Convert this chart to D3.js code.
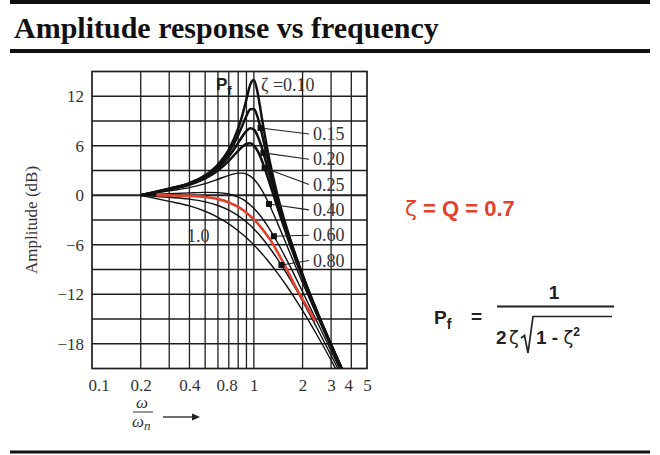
<!DOCTYPE html>
<html>
<head>
<meta charset="utf-8">
<script src="https://cdn.jsdelivr.net/npm/d3@7"></script>
<style>
  body { margin: 0; background: #fff; }
  svg { display: block; }
  .axis text { font-family: "Liberation Serif", serif; font-size: 17px; fill: #333; }
  .axis .domain { display: none; }
  .curve-label { font-family: "Liberation Serif", serif; font-size: 18px; fill: #333; }
  .formula { font-family: "Liberation Sans", Arial, sans-serif; font-weight: bold; fill: #222; }
</style>
</head>
<body>
<svg id="chart" width="660" height="455"></svg>
<script>
// normalised frequency w/wn and the amplitude (dB)
const freq = [0.2, 0.3, 0.4, 0.5, 0.6, 0.7, 0.8, 0.85, 0.9, 0.95, 1.0, 1.05, 1.1, 1.15, 1.2, 1.3, 1.4, 1.6, 1.8, 2.0, 2.5, 3.0, 3.5]

const zeta010 = [0, 0.80, 1.48, 2.42, 3.73, 5.53, 8.09, 9.75, 11.64, 13.41, 13.98, 12.63, 10.34, 8.04, 6.00, 2.65, 0.00, -4.04, -7.12, -9.62, -14.44, -18.09, -21.04]
const zeta015 = [0, 0.78, 1.43, 2.33, 3.55, 5.17, 7.28, 8.48, 9.63, 10.42, 10.46, 9.60, 8.15, 6.52, 4.91, 2.02, -0.41, -4.26, -7.25, -9.71, -14.49, -18.12, -21.06]
const zeta020 = [0, 0.74, 1.36, 2.20, 3.30, 4.70, 6.35, 7.15, 7.81, 8.13, 7.96, 7.28, 6.24, 5.01, 3.73, 1.27, -0.92, -4.54, -7.43, -9.84, -14.56, -18.16, -21.09]
const zeta025 = [0, 0.70, 1.27, 2.04, 3.01, 4.17, 5.38, 5.89, 6.22, 6.29, 6.02, 5.43, 4.60, 3.62, 2.57, 0.46, -1.50, -4.88, -7.66, -10.00, -14.64, -18.21, -21.13]
const zeta040 = [0, 0.53, 0.93, 1.41, 1.94, 2.41, 2.68, 2.68, 2.56, 2.31, 1.94, 1.45, 0.87, 0.22, -0.47, -1.93, -3.38, -6.10, -8.51, -10.63, -14.99, -18.44, -21.28]
const zeta060 = [0, 0.19, 0.29, 0.35, 0.32, 0.15, -0.22, -0.48, -0.80, -1.17, -1.58, -2.04, -2.52, -3.03, -3.55, -4.64, -5.73, -7.87, -9.86, -11.69, -15.63, -18.86, -21.59]
const zeta080 = [0, -0.25, -0.47, -0.80, -1.24, -1.80, -2.47, -2.85, -3.24, -3.65, -4.08, -4.52, -4.97, -5.43, -5.89, -6.82, -7.74, -9.54, -11.24, -12.84, -16.39, -19.40, -21.98]
const zeta100 = [0, -0.75, -1.29, -1.94, -2.67, -3.46, -4.30, -4.72, -5.15, -5.59, -6.02, -6.45, -6.89, -7.32, -7.75, -8.60, -9.43, -11.03, -12.55, -13.98, -17.21, -20.00, -22.44]

// the highlighted (red) zeta = 0.7 curve
const redFreq = [0.25, 0.3, 0.4, 0.5, 0.6, 0.7, 0.8, 0.9, 1.0, 1.1, 1.2, 1.3, 1.4, 1.6, 1.8, 2.0, 2.2, 2.4]
const redDb = [0, -0.02, -0.08, -0.22, -0.47, -0.87, -1.41, -2.11, -2.92, -3.83, -4.79, -5.78, -6.90, -9.00, -11.00, -12.60, -14.00, -15.30]

// labelled curves on the right, with the frequency where each leader line lands
const labelNames = ['0.15', '0.20', '0.25', '0.40', '0.60', '0.80']
const labelSeries = [zeta015, zeta020, zeta025, zeta040, zeta060, zeta080]
const markerFreq = [1.10, 1.145, 1.165, 1.24, 1.33, 1.48]

const xTicks = [0.1, 0.2, 0.4, 0.8, 1, 2, 3, 4, 5]
const xGrid = [0.2, 0.3, 0.4, 0.5, 0.6, 0.7, 0.8, 0.9, 1, 2, 3, 4]
const yTicks = [12, 6, 0, -6, -12, -18]
const yGrid = [12, 9, 6, 3, 0, -3, -6, -9, -12, -15, -18]

const svg = d3.select('#chart')
const x = d3.scaleLog().domain([0.1, 5]).range([92, 367])
const y = d3.scaleLinear().domain([-21, 15]).range([368.5, 71.5])
const [x0, x1] = x.range()
const [y0, y1] = y.range()

// page rules and title
svg.selectAll('line.rule')
  .data([2, 51, 452])
  .enter().append('line')
  .attr('class', 'rule')
  .attr('x1', 10).attr('x2', 650)
  .attr('y1', d => d).attr('y2', d => d)
  .attr('stroke', '#111')
  .attr('stroke-width', (d, i) => i === 2 ? 3 : 4)

svg.append('text')
  .attr('x', 14).attr('y', 38)
  .attr('font-family', '"Liberation Serif", serif')
  .attr('font-weight', 'bold')
  .attr('font-size', 30)
  .attr('fill', '#111')
  .text('Amplitude response vs frequency')

// grid
const grid = svg.append('g').attr('stroke', '#1e1e1e').attr('stroke-width', 1.3)
grid.selectAll('line.v')
  .data(xGrid)
  .enter().append('line')
  .attr('x1', d => x(d)).attr('x2', d => x(d))
  .attr('y1', y1).attr('y2', y0)
grid.selectAll('line.h')
  .data(yGrid)
  .enter().append('line')
  .attr('x1', x0).attr('x2', x1)
  .attr('y1', d => y(d)).attr('y2', d => y(d))
  .attr('stroke-width', d => d === 0 ? 1.9 : 1.3)
svg.append('rect')
  .attr('x', x0).attr('y', y1)
  .attr('width', x1 - x0).attr('height', y0 - y1)
  .attr('fill', 'none').attr('stroke', '#1e1e1e').attr('stroke-width', 1.7)

// axes labels
svg.append('g')
  .attr('class', 'axis')
  .attr('transform', `translate(${x0 - 8},0)`)
  .call(d3.axisLeft(y).tickValues(yTicks).tickSize(0).tickPadding(0).tickFormat(d3.format('d')))

const xAxis = svg.append('g')
  .attr('class', 'axis')
  .attr('transform', `translate(0,${y0 + 10})`)
  .call(d3.axisBottom(x).tickValues(xTicks).tickSize(0).tickPadding(0).tickFormat(d => d))
xAxis.selectAll('.tick text')
  .attr('text-anchor', d => d === 0.1 ? 'start' : d === 0.8 ? 'end' : 'middle')
  .attr('dx', d => d === 0.1 ? -4 : d === 0.8 ? -1 : d === 4 ? -3 : 0)

svg.append('text')
  .attr('transform', `translate(37,${(y0 + y1) / 2}) rotate(-90)`)
  .attr('text-anchor', 'middle')
  .attr('font-family', '"Liberation Serif", serif')
  .attr('font-size', 17)
  .attr('fill', '#333')
  .text('Amplitude (dB)')

// omega / omega_n with arrow
const wLabel = svg.append('g')
  .attr('font-family', '"Liberation Serif", serif')
  .attr('font-style', 'italic')
  .attr('font-size', 17)
  .attr('fill', '#333')
wLabel.append('text').attr('x', 142).attr('y', 408).attr('text-anchor', 'middle').text('ω')
wLabel.append('line').attr('x1', 133).attr('x2', 153).attr('y1', 412).attr('y2', 412)
  .attr('stroke', '#333').attr('stroke-width', 1)
const wn = wLabel.append('text').attr('x', 132).attr('y', 427)
wn.append('tspan').text('ω')
wn.append('tspan').attr('font-size', 13).attr('dy', 3).text('n')
wLabel.append('line').attr('x1', 163).attr('x2', 194).attr('y1', 417).attr('y2', 417)
  .attr('stroke', '#222').attr('stroke-width', 1.3)
wLabel.append('path').attr('d', 'M192,413.5 L200,417 L192,420.5 Z').attr('fill', '#222')

// curves
svg.append('clipPath').attr('id', 'plot-clip')
  .append('rect')
  .attr('x', x0).attr('y', y1)
  .attr('width', x1 - x0).attr('height', y0 - y1)

const line = d3.line()
  .x(d => x(d[0]))
  .y(d => y(d[1]))
  .curve(d3.curveMonotoneX)

const curves = [zeta010, zeta015, zeta020, zeta025, zeta040, zeta060, zeta080, zeta100]
const plot = svg.append('g').attr('clip-path', 'url(#plot-clip)')

plot.selectAll('path.curve')
  .data(curves)
  .enter().append('path')
  .attr('class', 'curve')
  .attr('d', s => line(s.map((v, i) => [freq[i], v])))
  .attr('fill', 'none')
  .attr('stroke', '#111')
  .attr('stroke-width', (s, i) => i < 4 ? 2.5 : 1.4)

plot.append('path')
  .attr('d', line(redDb.map((v, i) => [redFreq[i], v])))
  .attr('fill', 'none')
  .attr('stroke', '#e3412b')
  .attr('stroke-width', 2.6)

// leader lines, markers and labels
const labelX = 313
const labelY = (i) => 134 + i * 25.3
const markers = labelSeries.map((s, i) => {
  const u = markerFreq[i]
  const db = d3.scaleLinear().domain(freq).range(s)(u)
  return [x(u), y(db)]
})

svg.selectAll('line.leader')
  .data(markers)
  .enter().append('line')
  .attr('x1', d => d[0]).attr('y1', d => d[1])
  .attr('x2', labelX - 4).attr('y2', (d, i) => labelY(i))
  .attr('stroke', '#222').attr('stroke-width', 1.1)

svg.selectAll('rect.marker')
  .data(markers)
  .enter().append('rect')
  .attr('x', d => d[0] - 3).attr('y', d => d[1] - 3)
  .attr('width', 6).attr('height', 6)
  .attr('fill', '#111')

svg.selectAll('text.curve-label')
  .data(labelNames)
  .enter().append('text')
  .attr('class', 'curve-label')
  .attr('x', labelX).attr('y', (d, i) => labelY(i) + 6)
  .text(d => d)

svg.append('text').attr('class', 'curve-label')
  .attr('x', 261).attr('y', 91).text('ζ =0.10')
svg.append('text').attr('class', 'curve-label')
  .attr('x', 187).attr('y', 242).text('1.0')

const pf = svg.append('text').attr('class', 'formula')
  .attr('x', 216).attr('y', 90).attr('font-size', 17)
pf.append('tspan').text('P')
pf.append('tspan').attr('font-size', 13).attr('dy', 5).text('f')

// right side notes
const note = svg.append('text')
  .attr('x', 405).attr('y', 216)
  .attr('font-family', '"Liberation Sans", Arial, sans-serif')
  .attr('font-weight', 'bold')
  .attr('font-size', 22)
  .attr('fill', '#e3412b')
note.append('tspan').attr('font-weight', 'normal').attr('font-family', '"DejaVu Sans", sans-serif').text('ζ')
note.append('tspan').text(' = Q = 0.7')

const f = svg.append('g').attr('class', 'formula').attr('font-size', 19)
const fl = f.append('text').attr('x', 434).attr('y', 324)
fl.append('tspan').text('P')
fl.append('tspan').attr('font-size', 14).attr('dy', 5).text('f')
f.append('text').attr('x', 471).attr('y', 323).text('=')
f.append('text').attr('x', 554).attr('y', 299).attr('text-anchor', 'middle').text('1')
f.append('line').attr('x1', 497).attr('x2', 614).attr('y1', 306.5).attr('y2', 306.5)
  .attr('stroke', '#222').attr('stroke-width', 2.2)
f.append('text').attr('x', 496).attr('y', 344).text('2')
f.append('text').attr('x', 509).attr('y', 344).attr('font-weight', 'normal')
  .attr('font-family', '"DejaVu Sans", sans-serif').attr('font-size', 18).text('ζ')
f.append('path')
  .attr('d', 'M521,338 L524.5,335.5 L528,353 L533,316.5 L612,316.5')
  .attr('fill', 'none').attr('stroke', '#222').attr('stroke-width', 1.7)
const rad = f.append('text').attr('x', 536).attr('y', 344)
rad.append('tspan').text('1 - ')
rad.append('tspan').attr('font-weight', 'normal').attr('font-family', '"DejaVu Sans", sans-serif').attr('font-size', 18).text('ζ')
rad.append('tspan').attr('font-size', 12).attr('dy', -8).text('2')
</script>
</body>
</html>
